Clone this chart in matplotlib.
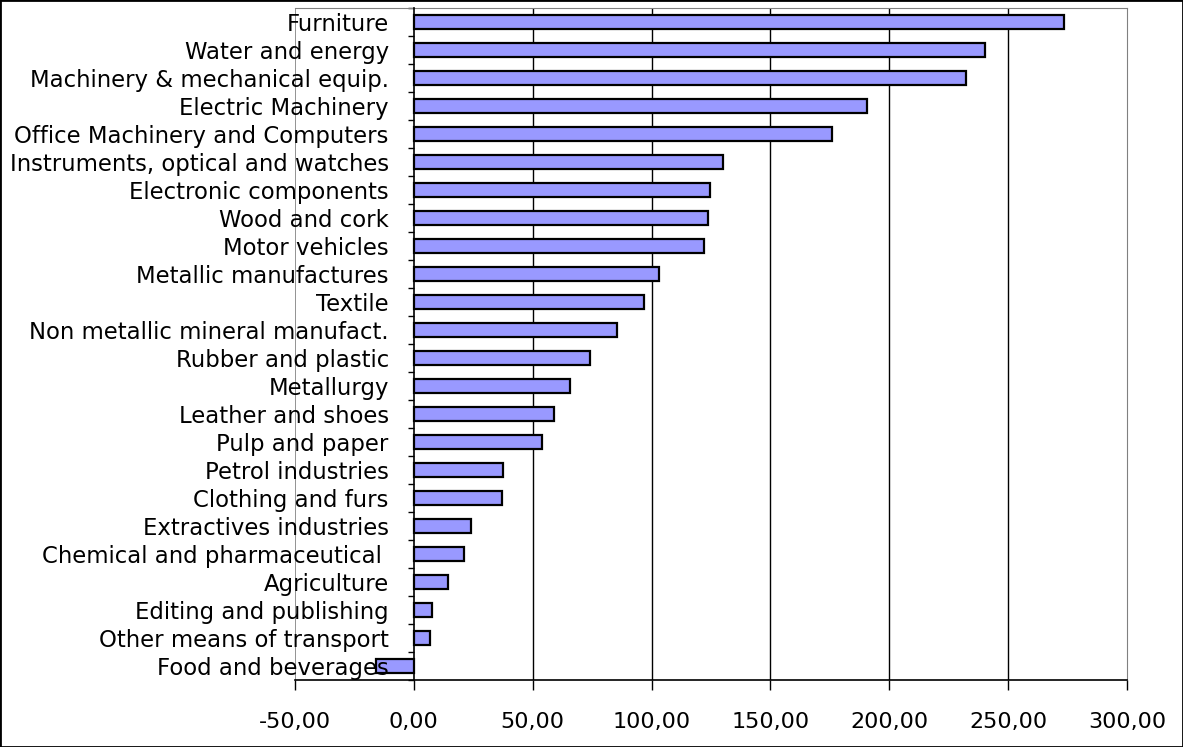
import matplotlib
matplotlib.use("Agg")
import matplotlib.pyplot as plt
import numpy as np
from matplotlib.patches import Rectangle

categories = [
    "Furniture", "Water and energy", "Machinery & mechanical equip.",
    "Electric Machinery", "Office Machinery and Computers",
    "Instruments, optical and watches", "Electronic components",
    "Wood and cork", "Motor vehicles", "Metallic manufactures", "Textile",
    "Non metallic mineral manufact.", "Rubber and plastic", "Metallurgy",
    "Leather and shoes", "Pulp and paper", "Petrol industries",
    "Clothing and furs", "Extractives industries",
    "Chemical and pharmaceutical ", "Agriculture", "Editing and publishing",
    "Other means of transport", "Food and beverages",
]
values = [273.3, 240.4, 232.3, 190.8, 176.1, 130.2, 124.5, 123.8, 122.1,
          103.1, 97.0, 85.4, 73.9, 65.6, 59.0, 53.7, 37.6, 37.0, 23.9, 21.3,
          14.3, 7.8, 6.8, -16.0]
xticks = [-50, 0, 50, 100, 150, 200, 250, 300]
xticklabels = ["-50,00", "0,00", "50,00", "100,00", "150,00", "200,00",
               "250,00", "300,00"]

plt.rcParams['font.family'] = ['DejaVu Sans']

W, H = 1183, 747
fig = plt.figure(figsize=(W / 100, H / 100), dpi=100)
ax = fig.add_axes([295 / W, (H - 680) / H, (1127 - 295) / W, (680 - 8) / H])

n = len(categories)
y = np.arange(n)
ax.barh(y, values, height=0.5, color="#9999FF", edgecolor="black",
        linewidth=1.6, zorder=1.2)

ax.set_xlim(-50, 300)
ax.set_ylim(n - 0.5, -0.5)

for g in [50, 100, 150, 200, 250]:
    ax.axvline(g, color="black", linewidth=1.0, zorder=0.5)

# spines
ax.spines['left'].set_position(('data', 0))
ax.spines['left'].set_color('black')
ax.spines['left'].set_linewidth(1.2)
ax.spines['left'].set_zorder(3)
ax.spines['bottom'].set_color('black')
ax.spines['bottom'].set_linewidth(1.2)
ax.spines['top'].set_color('#808080')
ax.spines['right'].set_color('#808080')
ax.axvline(-50, color='#808080', linewidth=1.2, zorder=0.5)

# y ticks: marks at boundaries, labels at centers
ax.set_yticks(np.arange(n + 1) - 0.5)
ax.set_yticklabels([])
ax.tick_params(axis='y', which='major', direction='out', length=4,
               width=1, color='black')
ax.set_yticks(y, minor=True)
ax.set_yticklabels(categories, minor=True, fontsize=16.4)
ax.tick_params(axis='y', which='minor', length=0, pad=18)
for lab in ax.get_yticklabels(minor=True):
    lab.set_verticalalignment('center_baseline')

ax.set_xticks(xticks)
ax.set_xticklabels(xticklabels, fontsize=16)
ax.tick_params(axis='x', direction='out', length=7, width=1, pad=16)

fig.patches.append(Rectangle((0, 0), 1, 1, transform=fig.transFigure,
                             fill=False, edgecolor='black', linewidth=2))

fig.savefig("out.png", dpi=100)
